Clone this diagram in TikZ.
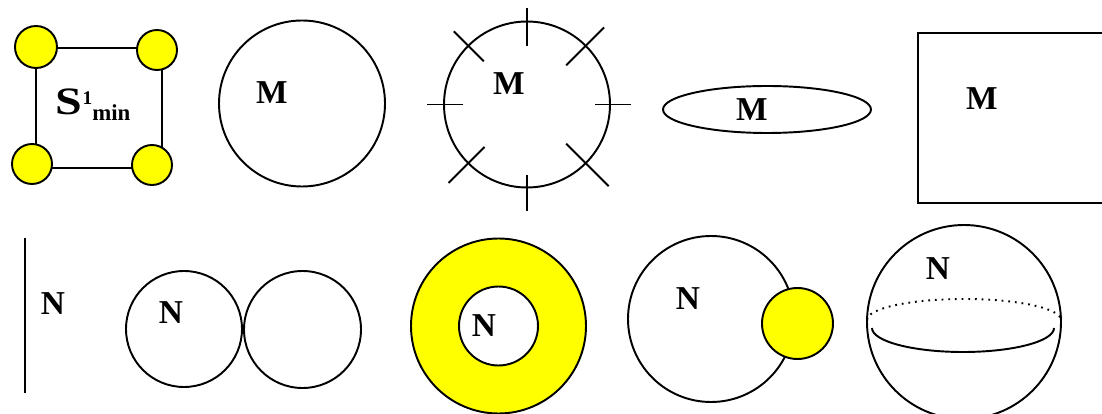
\documentclass[tikz,border=0pt]{standalone}
\usepackage{fontspec}
\setmainfont{Liberation Serif}
\definecolor{dotyellow}{RGB}{255,255,0}
\begin{document}
\begin{tikzpicture}[line width=1.1pt,
  lbl/.style={font=\fontsize{19}{19}\selectfont\bfseries, inner sep=0pt},
  yel/.style={fill=dotyellow, draw=black}]
\useasboundingbox (0,0) rectangle (22.04,8.28);
\clip (0,0) rectangle (22.04,8.28);
% top row
\draw (0.72,7.32) rectangle (3.24,4.92);
\filldraw[yel] (0.72,7.34) circle [radius = 0.42cm];
\filldraw[yel] (3.14,7.28) circle [radius = 0.40cm];
\filldraw[yel] (0.64,5.00) circle [radius = 0.40cm];
\filldraw[yel] (3.04,4.98) circle [radius = 0.40cm];
\node[lbl, anchor=base west, font=\fontsize{21}{21}\selectfont\bfseries] (smin) at (1.10,5.98)
  {\scalebox{1.3}[1.05]{S}\raisebox{5.7pt}{\fontsize{11}{11}\selectfont 1}\raisebox{-3.4pt}{\fontsize{13}{13}\selectfont min}};
\draw (6.04,6.21) circle [radius = 1.66cm];
\node[lbl] (m1) at (5.44,6.42) {M};
\draw (10.54,6.19) circle [radius = 1.66cm];
\foreach \a/\ri/\ro in {90/1.17/1.93, 45/1.11/2.18, 0/1.36/2.08, -45/1.11/2.31,
                        -90/1.41/2.13, -135/1.20/2.22, 180/1.28/2.00, 135/1.22/2.07}
  \draw[shift={(10.54,6.19)}] (\a:\ri) -- (\a:\ro);
\node[lbl] (m2) at (10.18,6.60) {M};
\draw (15.34,6.09) ellipse [x radius = 2.08cm, y radius = 0.47cm];
\node[lbl] (m3) at (15.04,6.08) {M};
\draw (18.36,7.62) rectangle (22.60,4.22);
\node[lbl] (m4) at (19.64,6.30) {M};
% bottom row
\draw (0.50,3.52) -- (0.50,0.42);
\node[lbl] (n1) at (1.06,2.20) {N};
\draw (3.68,1.70) circle [radius = 1.16cm];
\draw (6.05,1.69) circle [radius = 1.17cm];
\node[lbl] (n2) at (3.42,2.02) {N};
\filldraw[yel] (9.97,1.76) circle [radius = 1.75cm];
\filldraw[fill=white] (9.97,1.76) circle [radius = 0.79cm];
\node[lbl] (n3) at (9.68,1.76) {N};
\draw (14.22,1.90) circle [radius = 1.66cm];
\filldraw[yel] (15.95,1.81) circle [radius = 0.71cm];
\node[lbl] (n4) at (13.76,2.30) {N};
\draw (19.28,1.84) circle [radius = 1.94cm];
\draw[dash pattern=on 1pt off 2.8pt] (17.34,1.88) arc [start angle=180, end angle=0, x radius=1.94cm, y radius=0.42cm];
\draw (17.44,1.72) arc [start angle=180, end angle=360, x radius=1.82cm, y radius=0.48cm];
\draw[line width=1.5pt] (19.04,1.24) -- (19.50,1.24);
\node[lbl] (n5) at (18.76,2.90) {N};
\end{tikzpicture}
\end{document}
